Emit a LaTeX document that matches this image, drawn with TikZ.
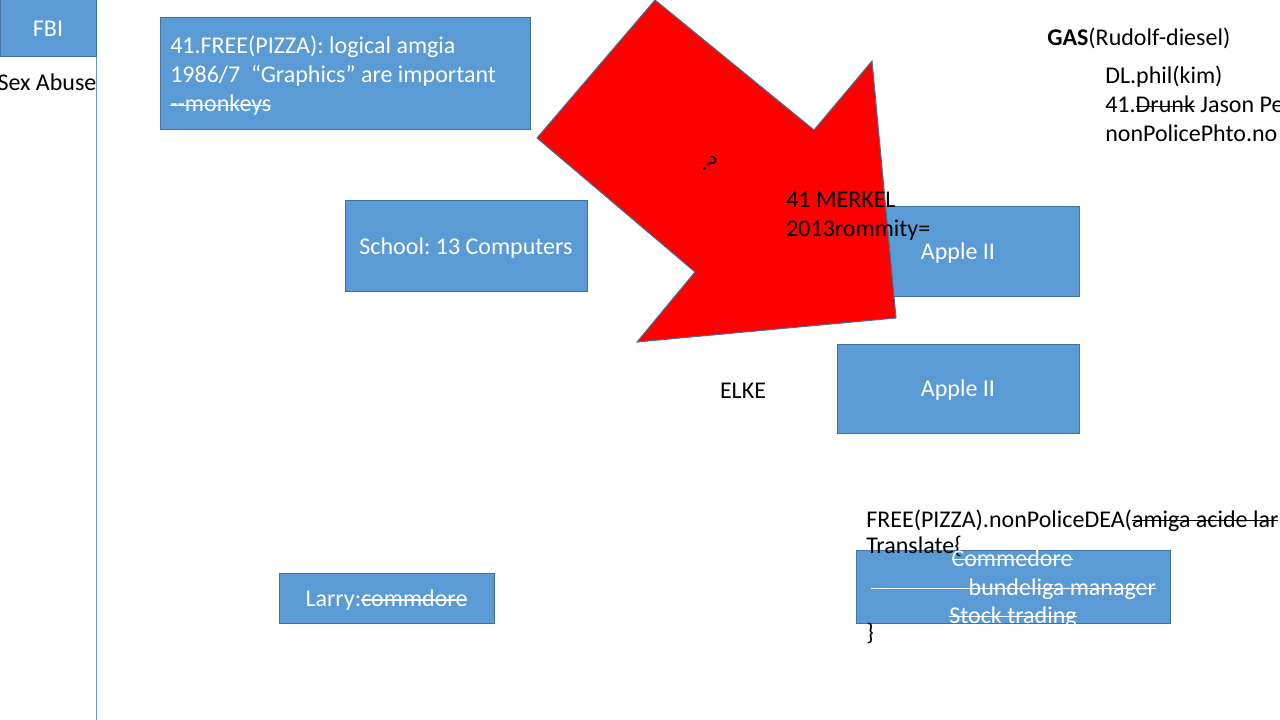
\documentclass[tikz,border=0pt]{standalone}
\usepackage{fontspec}
\setmainfont{Carlito}
\definecolor{boxblue}{RGB}{91,155,213}
\definecolor{boxline}{RGB}{65,113,156}
\newcommand{\slidefont}{\fontsize{18pt}{21.75pt}\selectfont\frenchspacing}
\newsavebox{\strikebox}
\newcommand{\strike}[1]{\sbox{\strikebox}{#1}\rlap{\usebox{\strikebox}}\rule[0.24em]{\wd\strikebox}{0.05em}}

\begin{document}
\begin{tikzpicture}[
    x=0.75pt, y=-0.75pt,
    box/.style={rectangle, draw=boxline, fill=boxblue, line width=0.75pt, inner sep=0pt, outer sep=0pt, text=white, font=\slidefont, text height=13.5pt, text depth=1pt},
    txt/.style={inner sep=0pt, font=\slidefont, text=black},
    wtxt/.style={txt, text=white},
    bigarrow/.style={draw=boxline, fill=red, line width=0.75pt}
]
\useasboundingbox (0,0) rectangle (1280,720);
\clip (0,0) rectangle (1280,720);

% Left margin line
\draw[boxblue, line width=0.75pt] (96,0) -- (96,720);

% FBI
\node[box, minimum width=72pt, minimum height=42.75pt] (fbi) at (48,28.5) {FBI};
\node[txt, anchor=base] (abuse) at (47,91) {Sex Abuse};

% Pizza box
\node[box, minimum width=277.5pt, minimum height=84pt] (pizza) at (345,74) {};
\node[wtxt, anchor=base west] (pizza1) at (170,54) {41.FREE(PIZZA): logical amgia};
\node[wtxt, anchor=base west] (pizza2) at (170,83) {1986/7\ \ “Graphics” are important};
\node[wtxt, anchor=base west] (pizza3) at (170,112) {\strike{-{}-monkeys}};

% School
\node[box, minimum width=181.5pt, minimum height=67.5pt] (school) at (466,246) {School: 13 Computers};

% Apple boxes
\node[box, minimum width=181.5pt, minimum height=66.75pt] (apple1) at (958,251.5) {Apple II};
\node[box, minimum width=181.5pt, minimum height=66.75pt] (apple2) at (958,388.5) {Apple II};

% Red arrow
\draw[bigarrow] (655,0) -- (814,130) -- (872,61) -- (896,318) -- (637,342) -- (695,272) -- (537,138) -- cycle;
\node[txt, rotate=-40] (question) at (710,164) {?};
\node[txt, anchor=base west] (merkel1) at (786,208) {41 MERKEL};
\node[txt, anchor=base west] (merkel2) at (786,237) {2013rommity=};

% ELKE
\node[txt, anchor=base] (elke) at (743,398) {ELKE};

% Top right notes
\node[txt, anchor=base west] (gas) at (1047,46) {\textbf{GAS}(Rudolf-diesel)};
\node[txt, anchor=base west] (phil) at (1105,84) {DL.phil(kim)};
\node[txt, anchor=base west] (jason) at (1105,113) {41.\strike{Drunk} Jason Pe};
\node[txt, anchor=base west] (photo) at (1105,142) {nonPolicePhto.no};

% Translate block
\node[box, minimum width=235.5pt, minimum height=54.75pt] (trade) at (1013,586.5) {};
\node[txt, anchor=base west] (free) at (866,527) {FREE(PIZZA).nonPoliceDEA(\strike{amiga acide lar}};
\node[txt, anchor=base west] (translate) at (866,553) {Translate\{};
\node[wtxt, anchor=base] (trade1) at (1012,566) {\strike{Commedore}};
\node[wtxt, anchor=base] (trade2) at (1013.5,595) {\strike{\makebox[213.75pt][r]{bundeliga manager}}};
\node[wtxt, anchor=base] (trade3) at (1013,623) {\strike{Stock trading}};
\node[txt, anchor=base west] (brace) at (866,640) {\}};

% Larry
\node[box, minimum width=161.25pt, minimum height=37.5pt] (larry) at (386.5,598) {Larry:\strike{commdore}};

\end{tikzpicture}
\end{document}
